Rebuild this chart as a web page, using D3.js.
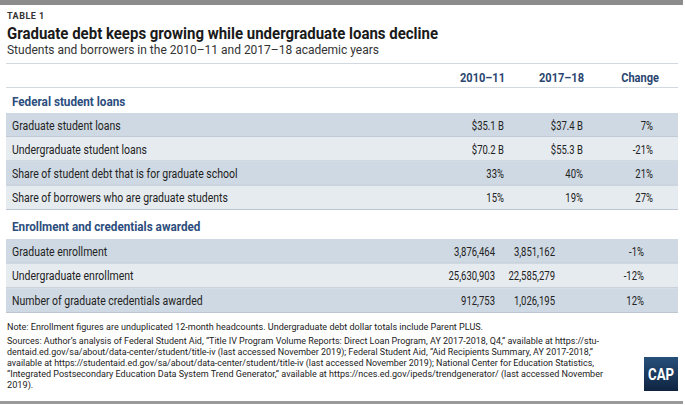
<!DOCTYPE html>
<html>
<head>
<meta charset="utf-8">
<script src="https://cdn.jsdelivr.net/npm/d3@7"></script>
<style>
  html, body { margin: 0; padding: 0; background: #fff; }
  svg { display: block; }
  text { font-family: Roboto, "Noto Sans", sans-serif; }
</style>
</head>
<body>
<svg id="chart" width="685" height="405"></svg>
<script>
// ---- Data ----
const tableLabel = "TABLE 1";
const title = "Graduate debt keeps growing while undergraduate loans decline";
const subtitle = "Students and borrowers in the 2010\u201311 and 2017\u201318 academic years";
const columns = ["2010\u201311", "2017\u201318", "Change"];

const section1Title = "Federal student loans";
const section1Labels = [
  "Graduate student loans",
  "Undergraduate student loans",
  "Share of student debt that is for graduate school",
  "Share of borrowers who are graduate students"
];
const section1Y2011 = ["$35.1 B", "$70.2 B", "33%", "15%"];
const section1Y2018 = ["$37.4 B", "$55.3 B", "40%", "19%"];
const section1Change = ["7%", "-21%", "21%", "27%"];

const section2Title = "Enrollment and credentials awarded";
const section2Labels = [
  "Graduate enrollment",
  "Undergraduate enrollment",
  "Number of graduate credentials awarded"
];
const section2Y2011 = ["3,876,464", "25,630,903", "912,753"];
const section2Y2018 = ["3,851,162", "22,585,279", "1,026,195"];
const section2Change = ["-1%", "-12%", "12%"];

const noteText = "Note: Enrollment figures are unduplicated 12-month headcounts. Undergraduate debt dollar totals include Parent PLUS.";
const sourceLines = [
  "Sources: Author\u2019s analysis of Federal Student Aid, \u201cTitle IV Program Volume Reports: Direct Loan Program, AY 2017-2018, Q4,\u201d available at https://stu-",
  "dentaid.ed.gov/sa/about/data-center/student/title-iv (last accessed November 2019); Federal Student Aid, \u201cAid Recipients Summary, AY 2017-2018,\u201d",
  "available at https://studentaid.ed.gov/sa/about/data-center/student/title-iv (last accessed November 2019); National Center for Education Statistics,",
  "\u201cIntegrated Postsecondary Education Data System Trend Generator,\u201d available at https://nces.ed.gov/ipeds/trendgenerator/ (last accessed November",
  "2019)."
];
const logoText = "CAP";

// ---- Drawing ----
const svg = d3.select("#chart");
const left = 6, right = 678, textX = 12;

// stretch/compress a text to a target width
function fit(sel, width) {
  sel.each(function() {
    const w = this.getComputedTextLength();
    if (w > 0) d3.select(this).attr("textLength", width).attr("lengthAdjust", "spacingAndGlyphs");
  });
  return sel;
}
// compress a text horizontally by a factor (condensed face look)
function squeeze(sel, k) {
  sel.each(function() {
    const w = this.getComputedTextLength();
    if (w > 0) d3.select(this).attr("textLength", w * k).attr("lengthAdjust", "spacingAndGlyphs");
  });
  return sel;
}

// top & bottom grey rules
svg.append("rect").attr("x", 0).attr("y", 0).attr("width", 683).attr("height", 5).attr("fill", "#8c8c8c");
svg.append("rect").attr("x", 0).attr("y", 401).attr("width", 683).attr("height", 3).attr("fill", "#9a9a9a");

// Header texts
svg.append("text").attr("x", 7).attr("y", 19).text(tableLabel)
  .attr("font-size", 9).attr("font-weight", "bold").attr("letter-spacing", 0.5).attr("fill", "#333");
fit(svg.append("text").attr("x", 7).attr("y", 39).text(title)
  .attr("font-size", 16).attr("font-weight", "bold").attr("fill", "#1a1a1a"), 431);
fit(svg.append("text").attr("x", 7).attr("y", 54).text(subtitle)
  .attr("font-size", 12.5).attr("fill", "#333"), 372);

// rules around column header
const ruleColor = "#d3d9e1";
svg.append("line").attr("x1", left).attr("x2", right).attr("y1", 63.5).attr("y2", 63.5).attr("stroke", ruleColor);
svg.append("line").attr("x1", left).attr("x2", right).attr("y1", 87.5).attr("y2", 87.5).attr("stroke", ruleColor);

const headerRight = [505, 584, 659];
squeeze(svg.selectAll("text.colhead").data(columns).join("text")
  .attr("class", "colhead")
  .attr("x", (d, i) => headerRight[i]).attr("y", 81.5)
  .attr("text-anchor", "end")
  .attr("font-size", 13).attr("font-weight", "bold").attr("fill", "#2b4670")
  .text(d => d), 0.85);

const darkFill = "#cfd9e3", lightFill = "#e6ebf0";

function drawSection(titleText, titleY, labels, c1, c2, c3, y0, y1, valueRight) {
  squeeze(svg.append("text").attr("x", textX).attr("y", titleY).text(titleText)
    .attr("font-size", 13).attr("font-weight", "bold").attr("fill", "#2c4d7d"), 0.9);

  const rows = labels.map((l, i) => ({ label: l, v: [c1[i], c2[i], c3[i]], i }));
  const yBand = d3.scaleBand().domain(d3.range(labels.length)).range([y0, y1]).padding(0);

  const g = svg.append("g");
  const row = g.selectAll("g.row").data(rows).join("g").attr("class", "row")
    .attr("transform", d => `translate(0,${yBand(d.i)})`);
  row.append("rect").attr("x", left).attr("width", right - left).attr("height", yBand.bandwidth())
    .attr("fill", d => d.i % 2 === 0 ? darkFill : lightFill);
  row.append("line").attr("x1", left).attr("x2", right)
    .attr("y1", yBand.bandwidth() - 0.5).attr("y2", yBand.bandwidth() - 0.5)
    .attr("stroke", "#bcc6d1").attr("stroke-width", 1);
  const mid = yBand.bandwidth() / 2 + 4.5;
  squeeze(row.append("text").attr("x", textX).attr("y", mid)
    .attr("font-size", 12.5).attr("fill", "#222").text(d => d.label), 0.84);
  squeeze(row.selectAll("text.val").data(d => d.v).join("text").attr("class", "val")
    .attr("x", (d, i) => valueRight[i]).attr("y", mid).attr("text-anchor", "end")
    .attr("font-size", 12.5).attr("fill", "#222").text(d => d), 0.76);
}

drawSection(section1Title, 106, section1Labels, section1Y2011, section1Y2018, section1Change, 113, 210, [504, 583, 653]);
drawSection(section2Title, 231, section2Labels, section2Y2011, section2Y2018, section2Change, 239, 313, [495, 555, 644]);

// Footer
const footSize = 9.2;
fit(svg.append("text").attr("x", 7).attr("y", 329.5).text(noteText)
  .attr("font-size", footSize).attr("fill", "#222"), 476);
const srcWidths = [592, 586, 587, 596, null];
svg.selectAll("text.src").data(sourceLines).join("text").attr("class", "src")
  .attr("x", 7).attr("y", (d, i) => 344 + i * 11)
  .attr("font-size", footSize).attr("fill", "#222").text(d => d)
  .each(function(d, i) { if (srcWidths[i]) fit(d3.select(this), srcWidths[i]); });

// CAP logo
const defs = svg.append("defs");
const grad = defs.append("linearGradient").attr("id", "capg").attr("x1", 0).attr("y1", 0).attr("x2", 0).attr("y2", 1);
grad.append("stop").attr("offset", "0%").attr("stop-color", "#26507a");
grad.append("stop").attr("offset", "100%").attr("stop-color", "#0f2440");
svg.append("rect").attr("x", 644).attr("y", 357).attr("width", 34).attr("height", 34).attr("fill", "url(#capg)");
fit(svg.append("text").attr("x", 661).attr("y", 380).attr("text-anchor", "middle")
  .attr("font-size", 16).attr("font-weight", "bold").attr("fill", "#fff").text(logoText), 26);
</script>
</body>
</html>
